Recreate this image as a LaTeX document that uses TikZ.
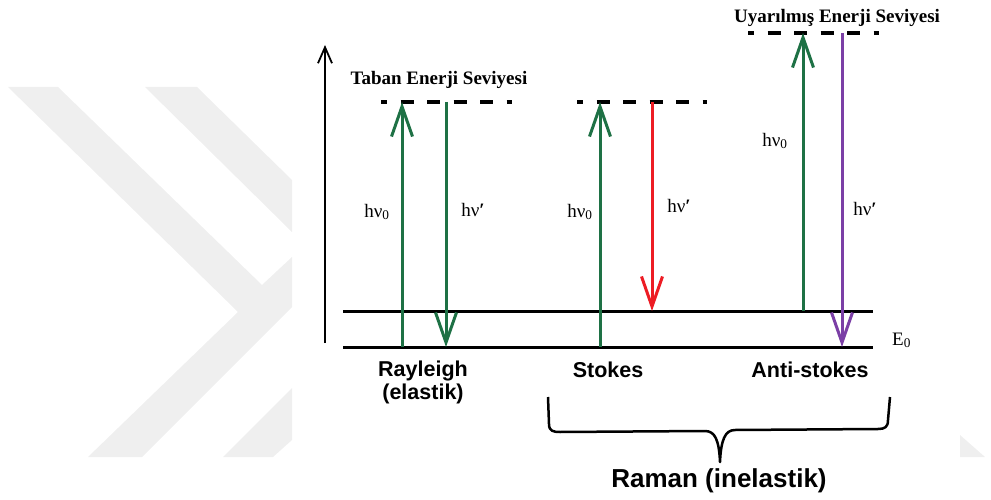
\documentclass[tikz,border=0pt]{standalone}
\usepackage{fontspec}
\setmainfont{Liberation Serif}
\setsansfont{Liberation Sans}
\usetikzlibrary{arrows.meta,positioning}
\definecolor{photongreen}{HTML}{1E7145}
\definecolor{stokesred}{HTML}{ED1C24}
\definecolor{antipurple}{HTML}{7B3FA6}
\definecolor{markgray}{HTML}{EFEFEF}

\begin{document}
\begin{tikzpicture}[x=1pt,y=-1pt,
    level/.style={line width=3pt},
    virtual/.style={line width=3.5pt,dash pattern=on 13pt off 13.5pt,dash phase=7pt},
    photon/.style={line width=3pt,-{Straight Barb[length=30pt,width=21pt]}},
    energy/.style={inner sep=0pt,font=\fontsize{19}{21}\selectfont},
    levelname/.style={inner sep=0pt,anchor=base,font=\fontsize{19}{21}\selectfont\bfseries},
    process/.style={inner sep=0pt,align=center,font=\fontsize{21.5}{23}\selectfont\sffamily\bfseries}]
  \useasboundingbox (0,0) rectangle (991,500);
  % faint background marks
  \fill[markgray] (8,87) -- (58,87) -- (262,285) -- (292,257) -- (292,307) -- (142,457) -- (88,457) -- (238,312) -- cycle;
  \fill[markgray] (145,87) -- (197,87) -- (292,180) -- (292,232) -- cycle;
  \fill[markgray] (223,457) -- (273,457) -- (292,440) -- (292,388) -- cycle;
  \fill[markgray] (960,435) -- (960,457) -- (985,457) -- cycle;

  % energy axis
  \coordinate (axisbot) at (325,343);
  \coordinate (axistop) at (325,45);
  \draw[line width=1.8pt,-{Straight Barb[length=16pt,width=14pt]}] (axisbot) -- (axistop);

  % ground and first vibrational level
  \coordinate (g0) at (343,347); \coordinate (g1) at (873,347);
  \coordinate (v0) at (343,311); \coordinate (v1) at (873,311);
  \draw[level] (g0) -- (g1);
  \draw[level] (v0) -- (v1);
  \node[energy,anchor=base west] (E0) at (892,345) {E\textsubscript{0}};

  % virtual levels
  \coordinate (rayL) at (381,102); \coordinate (rayR) at (512,102);
  \coordinate (stoL) at (577,102); \coordinate (stoR) at (707,102);
  \coordinate (antL) at (748,33);  \coordinate (antR) at (879,33);
  \draw[virtual] (rayL) -- (rayR);
  \draw[virtual] (stoL) -- (stoR);
  \draw[virtual] (antL) -- (antR);
  \node[levelname] (taban) at (439,85) {Taban Enerji Seviyesi};
  \node[levelname] (uyarilmis) at (837,23) {Uyarılmış Enerji Seviyesi};

  % Rayleigh
  \coordinate (ray1b) at (402,347); \coordinate (ray1t) at (402,102);
  \coordinate (ray2t) at (446,102); \coordinate (ray2b) at (446,347);
  \draw[photon,photongreen] (ray1b) -- (ray1t);
  \draw[photon,photongreen] (ray2t) -- (ray2b);
  \node[energy] (rayin) at (377,212) {hν\textsubscript{0}};
  \node[energy] (rayout) at (473,210) {hν\textbf{′}};

  % Stokes
  \coordinate (sto1b) at (600,347); \coordinate (sto1t) at (600,102);
  \coordinate (sto2t) at (652,102); \coordinate (sto2b) at (652,311);
  \draw[photon,photongreen] (sto1b) -- (sto1t);
  \draw[photon,stokesred] (sto2t) -- (sto2b);
  \node[energy] (stoin) at (580,212) {hν\textsubscript{0}};
  \node[energy] (stoout) at (679,206) {hν\textbf{′}};

  % anti-Stokes
  \coordinate (ant1b) at (803,311); \coordinate (ant1t) at (803,33);
  \coordinate (ant2t) at (842,33);  \coordinate (ant2b) at (842,347);
  \draw[photon,photongreen] (ant1b) -- (ant1t);
  \draw[photon,antipurple] (ant2t) -- (ant2b);
  \node[energy] (antin) at (775,141) {hν\textsubscript{0}};
  \node[energy] (antout) at (865,209) {hν\textbf{′}};

  % process names
  \node[process,anchor=north] (rayleigh) at (423,361) {Rayleigh\\(elastik)};
  \node[process,anchor=base] (stokes) at (608,377) {Stokes};
  \node[process,anchor=base] (antistokes) at (810,377) {Anti-stokes};

  % brace under the Raman lines
  \coordinate (braceL) at (548,397);
  \coordinate (braceR) at (890,397);
  \coordinate (braceM) at (720,462);
  \draw[line width=2.5pt,line join=round]
    (braceL) -- (549,424) .. controls (549,431) and (553,432) .. (560,432)
    -- (705,431) .. controls (715,431) and (719,440) .. (braceM)
    .. controls (721,440) and (725,430) .. (735,430)
    -- (878,429) .. controls (885,429) and (888,427) .. (888,420) -- (braceR);
  \node[process,anchor=base,font=\fontsize{26}{28}\selectfont\sffamily\bfseries] (raman) at (719,487) {Raman (inelastik)};
\end{tikzpicture}
\end{document}
